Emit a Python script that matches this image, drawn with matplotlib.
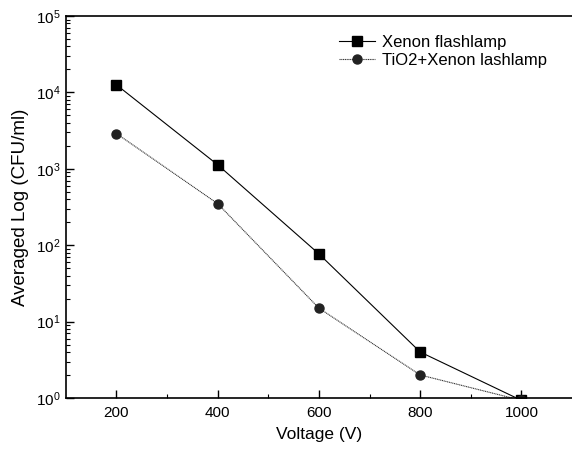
import numpy as np
import matplotlib
matplotlib.use("Agg")
import matplotlib.pyplot as plt
from matplotlib.ticker import LogLocator, FixedLocator

plt.rcParams['font.family'] = ['Liberation Sans', 'DejaVu Sans']
plt.rcParams['mathtext.default'] = 'regular'

voltage = [200, 400, 600, 800, 1000]
xenon = [1.26e4, 1.13e3, 77, 4.0, 0.93]
tio2_xenon = [2.9e3, 350, 15, 2.0, 0.93]
labels = ["Xenon flashlamp", "TiO2+Xenon lashlamp"]

fig = plt.figure(figsize=(5.72, 4.59), dpi=100)
ax = fig.add_axes([0.115, 0.133, 0.885, 0.832])

ax.plot(voltage, xenon, color='black', lw=0.8, marker='s', ms=6.5,
        label=labels[0])
ax.plot(voltage, tio2_xenon, color='#333333', lw=0.8, ls=(0, (1, 0.6)),
        marker='o', ms=6.5, mfc='#222222', mec='#222222', label=labels[1])

ax.set_yscale('log')
ax.set_ylim(1, 1e5)
ax.set_xlim(100, 1100)
ax.xaxis.set_major_locator(FixedLocator([200, 400, 600, 800, 1000]))
ax.xaxis.set_minor_locator(FixedLocator([300, 500, 700, 900]))
ax.yaxis.set_major_locator(LogLocator(base=10, numticks=10))
ax.yaxis.set_minor_locator(LogLocator(base=10, subs=np.arange(2, 10), numticks=10))

ax.tick_params(which='both', direction='in', labelsize=11)
ax.tick_params(which='major', length=6, width=1)
ax.tick_params(which='minor', length=3, width=0.8)
ax.tick_params(axis='x', pad=6)

ax.spines['right'].set_visible(False)
for s in ['left', 'bottom', 'top']:
    ax.spines[s].set_linewidth(1.2)

ax.set_xlabel("Voltage (V)", fontsize=12.5, labelpad=5)
ax.set_ylabel("Averaged Log (CFU/ml)", fontsize=13.5, labelpad=5)

ax.legend(loc='upper right', bbox_to_anchor=(0.98, 0.99), frameon=False,
          fontsize=12, handlelength=2.2, handletextpad=0.4, labelspacing=0.2)

fig.savefig("out.png", dpi=100)
